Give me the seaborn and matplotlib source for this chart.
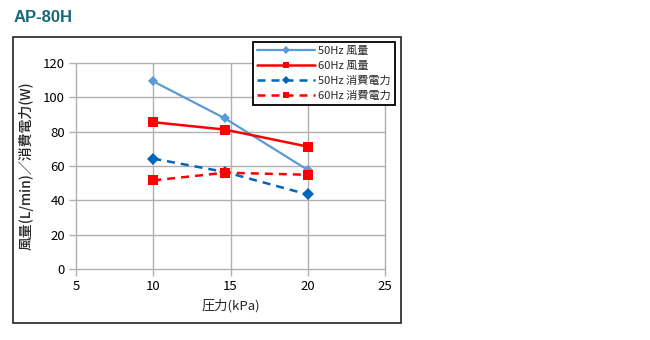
import matplotlib
matplotlib.use("Agg")
import matplotlib.pyplot as plt
import seaborn as sns
import pandas as pd
from matplotlib.patches import Rectangle

pressure = [10, 14.65, 20]
air_50 = [109.3, 87.7, 57.7]
air_60 = [85.5, 81.2, 71.3]
pow_50 = [64.3, 56.5, 43.4]
pow_60 = [51.6, 56.1, 54.9]
series_names = ["50Hz 風量", "60Hz 風量", "50Hz 消費電力", "60Hz 消費電力"]
x_ticks = [5, 10, 15, 20, 25]
y_ticks = [0, 20, 40, 60, 80, 100, 120]

sns.set_style("white")
plt.rcParams['font.family'] = ['Noto Sans CJK JP', 'DejaVu Sans']

fig = plt.figure(figsize=(6.5, 3.4), dpi=100)
ax = fig.add_axes([76/650, 1-269/340, (385-76)/650, (269-63)/340])

styles = [
    dict(color="#5b9bd5", linestyle="-", marker="D", markersize=5.5, lw=1.6),
    dict(color="#ff0000", linestyle="-", marker="s", markersize=6.5, lw=1.8),
    dict(color="#0066bb", linestyle=(0, (3.2, 2.4)), marker="D", markersize=6, lw=1.8),
    dict(color="#ff0000", linestyle=(0, (3.2, 2.4)), marker="s", markersize=6.5, lw=1.8),
]
for name, vals, st in zip(series_names, [air_50, air_60, pow_50, pow_60], styles):
    df = pd.DataFrame({"x": pressure, "y": vals})
    sns.lineplot(data=df, x="x", y="y", ax=ax, label=name, color=st["color"],
                 linestyle=st["linestyle"], marker=st["marker"], markersize=st["markersize"],
                 markeredgewidth=0, linewidth=st["lw"], zorder=3)

ax.set_xlim(5, 25)
ax.set_ylim(0, 120)
ax.set_xticks(x_ticks)
ax.set_yticks(y_ticks)
ax.grid(True, color="#b0b0b0", linewidth=1.0)
for gl in ax.get_xgridlines() + ax.get_ygridlines():
    gl.set_clip_on(False)
for s in ax.spines.values():
    s.set_visible(False)
ax.tick_params(axis="both", which="both", length=5, color="#b0b0b0", width=1.0,
               labelsize=9.5, labelcolor="black", pad=3, left=True, bottom=True)
ax.set_xlabel("圧力(kPa)", fontsize=9.5, labelpad=4)
ax.set_ylabel("風量(L/min)／消費電力(W)", fontsize=10, labelpad=7, fontweight="medium")

ax.legend(loc="upper right", bbox_to_anchor=(395/650, 1-42/340), bbox_transform=fig.transFigure,
          fontsize=8, frameon=True, fancybox=False, edgecolor="black", framealpha=1,
          handlelength=5.2, borderpad=0.35, labelspacing=0.45, handletextpad=0.3, borderaxespad=0,
          markerscale=0.7)
ax.get_legend().get_frame().set_linewidth(1.3)

fig.patches.append(Rectangle((13/650, 1-323/340), (401-13)/650, (323-37)/340,
                             transform=fig.transFigure, fill=False, edgecolor="#222222", linewidth=1.2))
fig.text(14/650, 1-18/340, "AP-80H", fontsize=12, fontweight="bold", color="#17687a",
         family=["Liberation Sans", "DejaVu Sans"], va="center", ha="left")

fig.savefig("out.png", dpi=100)
